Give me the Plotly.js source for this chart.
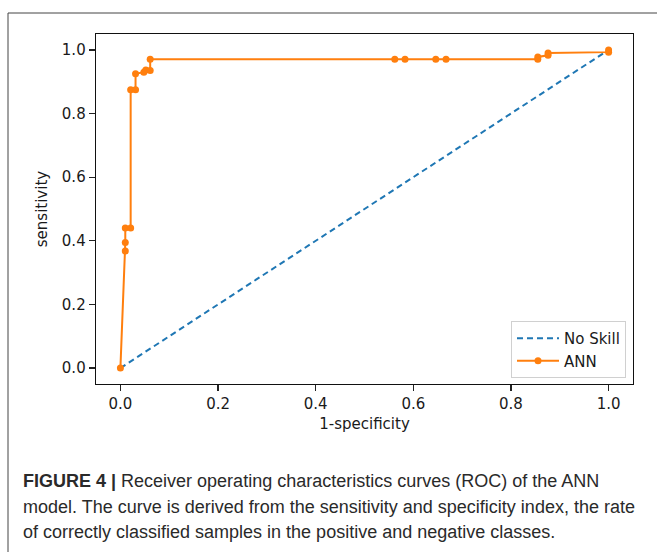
<!DOCTYPE html>
<html>
<head>
<meta charset="utf-8">
<script src="https://cdn.plot.ly/plotly-3.0.1.min.js"></script>
<style>
html,body{margin:0;padding:0;background:#fff;}
#chart{width:657px;height:552px;}
</style>
</head>
<body>
<div id="chart"></div>
<script>
// ---- data ----
var noSkillFpr = [0, 1];
var noSkillTpr = [0, 1];

var annFpr = [0, 0.01, 0.01, 0.01, 0.021, 0.021, 0.031, 0.031, 0.048, 0.052, 0.061, 0.061,
              0.562, 0.583, 0.646, 0.667, 0.855, 0.855, 0.876, 0.876, 1.0, 1.0];
var annTpr = [0, 0.368, 0.395, 0.44, 0.44, 0.875, 0.875, 0.925, 0.93, 0.937, 0.935, 0.971,
              0.971, 0.971, 0.971, 0.971, 0.971, 0.978, 0.983, 0.99, 0.993, 1.0];

var xTickVals = [0, 0.2, 0.4, 0.6, 0.8, 1.0];
var xTickText = ["0.0", "0.2", "0.4", "0.6", "0.8", "1.0"];
var yTickVals = [0, 0.2, 0.4, 0.6, 0.8, 1.0];
var yTickText = ["0.0", "0.2", "0.4", "0.6", "0.8", "1.0"];

var seriesNames = ["No Skill", "ANN"];
var xTitle = "1-specificity";
var yTitle = "sensitivity";
var captionLines = [
  "<b>FIGURE 4 |</b> Receiver operating characteristics curves (ROC) of the ANN",
  "model. The curve is derived from the sensitivity and specificity index, the rate",
  "of correctly classified samples in the positive and negative classes."
];

// ---- geometry (px) ----
var W = 657, H = 552;
var mL = 96, mR = 24, mT = 34, mB = 168;
var pw = W - mL - mR, ph = H - mT - mB;
function px2x(p){ return (p - mL) / pw; }
function py2y(p){ return (H - mB - p) / ph; }

var traces = [
  {
    x: noSkillFpr, y: noSkillTpr, name: seriesNames[0], type: 'scatter', mode: 'lines',
    line: {color: '#1f77b4', width: 2, dash: '6px,4px'}
  },
  {
    x: annFpr, y: annTpr, name: seriesNames[1], type: 'scatter', mode: 'lines+markers',
    line: {color: '#ff7f0e', width: 2},
    marker: {color: '#ff7f0e', size: 7}
  }
];

var captionYs = [481, 507, 532];
var annotations = captionLines.map(function(t, i){
  return {
    xref: 'paper', yref: 'paper', x: px2x(21), y: py2y(captionYs[i]),
    xanchor: 'left', yanchor: 'middle', showarrow: false, align: 'left',
    text: t, font: {family: 'Liberation Sans, Arial, sans-serif', size: 18, color: '#2a2a2a'}
  };
});

var layout = {
  width: W, height: H,
  margin: {l: mL, r: mR, t: mT, b: mB, pad: 0},
  paper_bgcolor: '#ffffff', plot_bgcolor: '#ffffff',
  font: {family: 'DejaVu Sans, sans-serif', size: 15, color: '#1a1a1a'},
  showlegend: true,
  legend: {
    x: px2x(626), y: py2y(378), xanchor: 'right', yanchor: 'bottom',
    bgcolor: '#ffffff', bordercolor: '#d0d0d0', borderwidth: 1,
    font: {family: 'DejaVu Sans, sans-serif', size: 15, color: '#1a1a1a'},
    tracegroupgap: 0, itemwidth: 42
  },
  xaxis: {
    range: [-0.05, 1.05], tickvals: xTickVals, ticktext: xTickText,
    ticks: 'outside', ticklen: 6, tickwidth: 1.2, tickcolor: '#222',
    showline: true, mirror: true, linecolor: '#111', linewidth: 1.3,
    showgrid: false, zeroline: false,
    title: {text: xTitle, standoff: 6, font: {size: 15}}
  },
  yaxis: {
    range: [-0.05, 1.05], tickvals: yTickVals, ticktext: yTickText,
    ticks: 'outside', ticklen: 6, tickwidth: 1.2, tickcolor: '#222',
    showline: true, mirror: true, linecolor: '#111', linewidth: 1.3,
    showgrid: false, zeroline: false,
    title: {text: yTitle, standoff: 10, font: {size: 15}}
  },
  shapes: [
    {type: 'rect', xref: 'paper', yref: 'paper',
     x0: px2x(8), x1: px2x(700), y0: py2y(620), y1: py2y(13),
     line: {color: '#444', width: 1}, fillcolor: 'rgba(0,0,0,0)', layer: 'below'}
  ],
  annotations: annotations
};

Plotly.newPlot('chart', traces, layout, {displayModeBar: false, staticPlot: true});
</script>
</body>
</html>
